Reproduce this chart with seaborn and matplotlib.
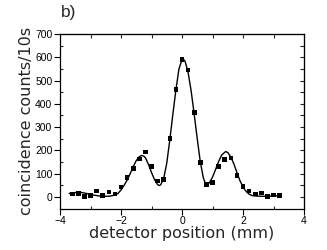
import numpy as np
import pandas as pd
import matplotlib
matplotlib.use("Agg")
import matplotlib.pyplot as plt
import seaborn as sns
from matplotlib.ticker import MultipleLocator

# measured data points
pos_mm = [-3.6, -3.4, -3.2, -3.0, -2.8, -2.6, -2.4, -2.2, -2.0, -1.8, -1.6, -1.4,
          -1.2, -1.0, -0.8, -0.6, -0.4, -0.2, 0.0, 0.2, 0.4, 0.6, 0.8, 1.0,
          1.2, 1.4, 1.6, 1.8, 2.0, 2.2, 2.4, 2.6, 2.8, 3.0, 3.2]
counts = [12, 15, 3, 7, 26, 5, 22, 12, 43, 83, 121, 163,
          193, 132, 69, 76, 252, 461, 590, 545, 362, 147, 53, 63,
          130, 162, 167, 92, 44, 26, 12, 17, 1, 9, 5]

# fitted curve
fit_x = [-3.7, -3.6, -3.5, -3.4, -3.3, -3.2, -3.1, -3.0, -2.9, -2.8, -2.7, -2.6, -2.5,
         -2.4, -2.3, -2.2, -2.1, -2.0, -1.9, -1.8, -1.7, -1.6, -1.5, -1.4, -1.33,
         -1.25, -1.2, -1.1, -1.0, -0.9, -0.8, -0.75, -0.7, -0.6, -0.5, -0.4, -0.3,
         -0.2, -0.1, 0.0, 0.04, 0.1, 0.2, 0.3, 0.4, 0.5, 0.6, 0.7, 0.78, 0.85,
         0.9, 1.0, 1.1, 1.2, 1.3, 1.43, 1.5, 1.6, 1.7, 1.8, 1.9, 2.0, 2.1, 2.2,
         2.3, 2.4, 2.6, 2.8, 3.0, 3.2]
fit_y = [15, 17, 19, 20, 19, 17, 14, 11, 8, 6, 4, 3, 3,
         3, 5, 8, 15, 30, 50, 72, 100, 130, 156, 173, 178,
         175, 168, 140, 105, 74, 53, 49, 52, 80, 145, 245, 355,
         460, 550, 590, 592, 583, 535, 455, 355, 250, 150, 82, 52, 54,
         62, 85, 118, 152, 180, 195, 191, 172, 142, 105, 70, 43, 24, 12,
         6, 4, 3, 3, 4, 5]

df_pts = pd.DataFrame({"x": pos_mm, "y": counts})
df_fit = pd.DataFrame({"x": fit_x, "y": fit_y})

sns.set_style("ticks")
plt.rcParams["font.family"] = ["Liberation Sans", "DejaVu Sans"]

fig = plt.figure(figsize=(3.27, 2.5), dpi=100)
ax = fig.add_axes([0.1835, 0.1656, 0.7462, 0.6984])

sns.lineplot(data=df_fit, x="x", y="y", ax=ax, color="black", lw=1.0, sort=False)
sns.scatterplot(data=df_pts, x="x", y="y", ax=ax, color="black", marker="s",
                s=11, edgecolor="none", linewidth=0, zorder=3)

ax.set_xlim(-4, 4)
ax.set_ylim(-50, 700)
ax.xaxis.set_major_locator(MultipleLocator(2))
ax.xaxis.set_minor_locator(MultipleLocator(1))
ax.yaxis.set_major_locator(MultipleLocator(100))
ax.yaxis.set_minor_locator(MultipleLocator(50))
ax.tick_params(which="major", direction="out", length=4, width=0.8,
               labelsize=7.5, pad=1.5, colors="black")
ax.tick_params(which="minor", direction="in", length=2.5, width=0.8)

for s in ax.spines.values():
    s.set_linewidth(0.9)
    s.set_visible(True)
    s.set_color("black")

secx = ax.secondary_xaxis("top")
secx.set_xticks(np.arange(-3, 4, 1))
secx.tick_params(direction="in", length=3, width=0.8, labeltop=False)
secy = ax.secondary_yaxis("right")
secy.set_yticks(np.arange(0, 700, 50))
secy.tick_params(direction="in", length=3, width=0.8, labelright=False)

ax.set_xlabel("detector position (mm)", fontsize=11.5, labelpad=0,
              family=["DejaVu Sans"])
ax.set_ylabel("coincidence counts/10s", fontsize=11.5, labelpad=1,
              family=["DejaVu Sans"])
fig.text(0.187, 0.93, "b)", fontsize=12.5, ha="left", va="baseline")

fig.savefig("out.png", dpi=100)
